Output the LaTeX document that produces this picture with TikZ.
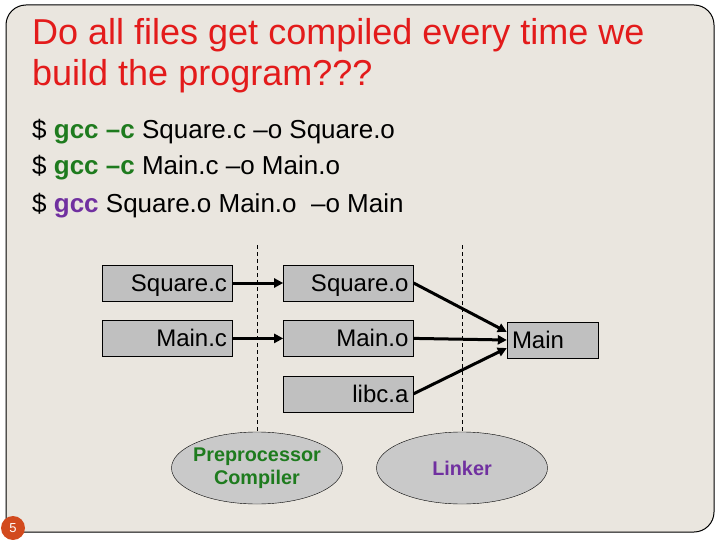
\documentclass[tikz,border=0pt]{standalone}
\usepackage{fontspec}
\setmainfont{Liberation Sans}
\usetikzlibrary{arrows.meta,positioning,shapes.geometric}
\definecolor{r}{HTML}{E31B1B}
\definecolor{g}{HTML}{1E7B1E}
\definecolor{p}{HTML}{7030A0}
\definecolor{o}{HTML}{D24A1E}
\definecolor{bg}{HTML}{EAE6DF}
\definecolor{gr}{HTML}{C0C0C0}

\begin{document}
\begin{tikzpicture}[x=1pt,y=-1pt,font=\fontsize{24}{28}\selectfont,
  file/.style={draw=black,fill=gr,minimum height=36pt,text width=120pt,inner sep=5pt,
    align=right,text height=17pt,text depth=0pt},
  tool/.style={ellipse,draw=black,fill=gr!85!white,minimum width=171pt,minimum height=72pt,
    inner xsep=-12pt,inner ysep=0pt,align=center,font=\fontsize{19.8}{23}\selectfont\bfseries},
  cmd/.style={anchor=base west,inner sep=0pt,font=\fontsize{26}{30}\selectfont},
  headline/.style={anchor=base west,inner sep=0pt,text=r,font=\fontsize{36}{40}\selectfont},
  arr/.style={-{Triangle[length=9pt,width=9pt]},line width=3pt},
  phase/.style={dash pattern=on 4pt off 3pt,line width=0.8pt}]
  \fill[white] (0,0) rectangle (720,540);
  \useasboundingbox (0,0) rectangle (720,540);
  % slide frame
  \draw[fill=bg,line width=1pt] (6,300) [rounded corners=20pt] -- (6,5) -- (714,5)
    -- (714,532) -- (30,532) [sharp corners] -- (6,532) -- cycle;
  \node[headline] (title) at (32,45) {Do all files get compiled every time we};
  \node[headline] (title2) at (32,86) {build the program???};
  \node[cmd] (cmdsq) at (32,139) {\$ \textbf{\color{g}gcc –c} Square.c –o Square.o};
  \node[cmd] (cmdmain) at (32,175) {\$ \textbf{\color{g}gcc –c} Main.c –o Main.o};
  \node[cmd] (cmdlink) at (32,212) {\$ \textbf{\color{p}gcc} Square.o Main.o \ –o Main};
  % files
  \node[file] (sqc) at (167,283) {Square.c};
  \node[file,right=51pt of sqc] (sqo) {Square.o};
  \node[file,below=19pt of sqc] (mc) {Main.c};
  \node[file,below=19pt of sqo] (mo) {Main.o};
  \node[file,below=19pt of mo] (lib) {libc.a};
  \node[file,align=left,text width=81pt] (main) at (552.5,340) {Main};
  % tools
  \node[tool,text=g] (cc) at (257,468) {Preprocessor\\Compiler};
  \node[tool,text=p] (ld) at (462,468) {Linker};
  \coordinate (cut1) at (257,245);
  \coordinate (cut2) at (462,245);
  \draw[phase] (cut1) -- (cc.north);
  \draw[phase] (cut2) -- (ld.north);
  \draw[arr] (sqc) -- (sqo); \draw[arr] (mc) -- (mo);
  \draw[arr] (sqo.east) -- (main.170);
  \draw[arr] (mo.east) -- (main.west);
  \draw[arr] (lib.east) -- (main.190);
  \node[circle,fill=o,text=white,minimum size=24pt,inner sep=0pt,
    font=\fontsize{13}{15}\selectfont] (pg) at (13,528) {5};
\end{tikzpicture}
\end{document}
